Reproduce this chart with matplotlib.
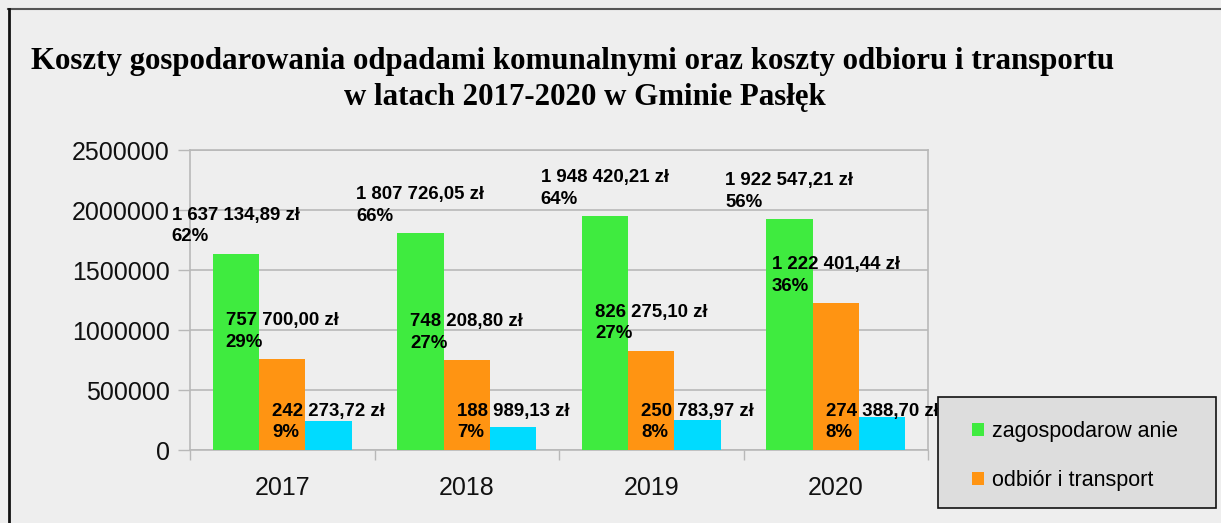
import matplotlib
matplotlib.use('Agg')
import matplotlib.pyplot as plt
import numpy as np
from matplotlib.patches import Rectangle, Patch
from matplotlib.lines import Line2D

years = ['2017', '2018', '2019', '2020']
zagospodarowanie = [1637134.89, 1807726.05, 1948420.21, 1922547.21]
odbior = [757700.00, 748208.80, 826275.10, 1222401.44]
trzecia = [242273.72, 188989.13, 250783.97, 274388.70]
pct_zag = [62, 66, 64, 56]
pct_odb = [29, 27, 27, 36]
pct_trz = [9, 7, 8, 8]
legend_names = ['zagospodarow anie', 'odbiór i transport']

GREEN = '#3feb3f'
ORANGE = '#ff9412'
CYAN = '#00dbff'
GRID = '#b8b8b8'
BG = '#eeeeee'

plt.rcParams['font.family'] = ['Liberation Sans', 'DejaVu Sans']


def fmt_zl(v):
    whole = int(v)
    grosze = int(round((v - whole) * 100))
    s = '{:,}'.format(whole).replace(',', ' ')
    return '%s,%02d zł' % (s, grosze)


fig = plt.figure(figsize=(12.21, 5.23), dpi=100, facecolor=BG)
ax = fig.add_axes([190 / 1221, 73 / 523, 738 / 1221, 300 / 523])
ax.set_facecolor(BG)

x = np.arange(len(years))
w = 0.252
series = [(zagospodarowanie, pct_zag, GREEN, -w),
          (odbior, pct_odb, ORANGE, 0),
          (trzecia, pct_trz, CYAN, w)]

for vals, pcts, col, off in series:
    ax.bar(x + off, vals, width=w, color=col, zorder=3)
    for i in range(len(years)):
        txt = fmt_zl(vals[i]) + '\n' + '%d%%' % pcts[i]
        # third series labels sit low, just above the axis
        anchor = vals[i] if col != CYAN else 0
        ax.annotate(txt, xy=(x[i] + off, anchor), xytext=(0, 20),
                    textcoords='offset points', ha='center', va='center',
                    multialignment='left', fontsize=13.4, fontweight='bold',
                    linespacing=1.34, zorder=5, annotation_clip=False)

ax.set_ylim(0, 2500000)
ax.set_xlim(-0.5, 3.5)
ax.set_yticks(np.arange(0, 2500001, 500000))
ax.set_yticklabels([str(v) for v in range(0, 2500001, 500000)])
ax.set_xticks(x)
ax.set_xticklabels(years)
ax.set_xticks(np.arange(-0.5, 4, 1), minor=True)
ax.tick_params(axis='y', length=8.5, width=1, color=GRID, labelsize=18,
               pad=6, labelcolor='#111111')
ax.tick_params(axis='x', which='major', length=0, labelsize=18, pad=19,
               labelcolor='#111111')
ax.tick_params(axis='x', which='minor', length=7, width=1, color=GRID)
ax.yaxis.grid(True, color=GRID, linewidth=1.2, zorder=0)
for sp in ax.spines.values():
    sp.set_color(GRID)
    sp.set_linewidth(1.2)

fig.text(0.469, 1 - 61 / 523, 'Koszty gospodarowania odpadami komunalnymi oraz koszty odbioru i transportu',
         ha='center', va='center', fontsize=22.2, fontweight='bold',
         family=['Liberation Serif', 'DejaVu Serif'])
fig.text(0.479, 1 - 98 / 523, 'w latach 2017-2020 w Gminie Pasłęk',
         ha='center', va='center', fontsize=22.2, fontweight='bold',
         family=['Liberation Serif', 'DejaVu Serif'])

# legend box
fig.patches.append(Rectangle((938 / 1221, 15 / 523), 278 / 1221, 111 / 523,
                             transform=fig.transFigure, facecolor='#dddddd',
                             edgecolor='#111111', linewidth=1.2, zorder=1))
handles = [Patch(facecolor=GREEN, edgecolor='none'),
           Patch(facecolor=ORANGE, edgecolor='none')]
fig.legend(handles, legend_names, loc='center left',
           bbox_to_anchor=(972 / 1221, 1 - 456 / 523), frameon=False,
           fontsize=15.5, handlelength=0.55, handleheight=0.55,
           handletextpad=0.4, labelspacing=1.3, borderpad=0,
           borderaxespad=0)

# outer frame
fig.add_artist(Line2D([8 / 1221, 1], [1 - 9 / 523, 1 - 9 / 523],
                      transform=fig.transFigure, color='#555555', linewidth=1.5))
fig.add_artist(Line2D([8.5 / 1221, 8.5 / 1221], [0, 1 - 9 / 523],
                      transform=fig.transFigure, color='#111111', linewidth=2))

fig.savefig('out.png', dpi=100, facecolor=BG)
